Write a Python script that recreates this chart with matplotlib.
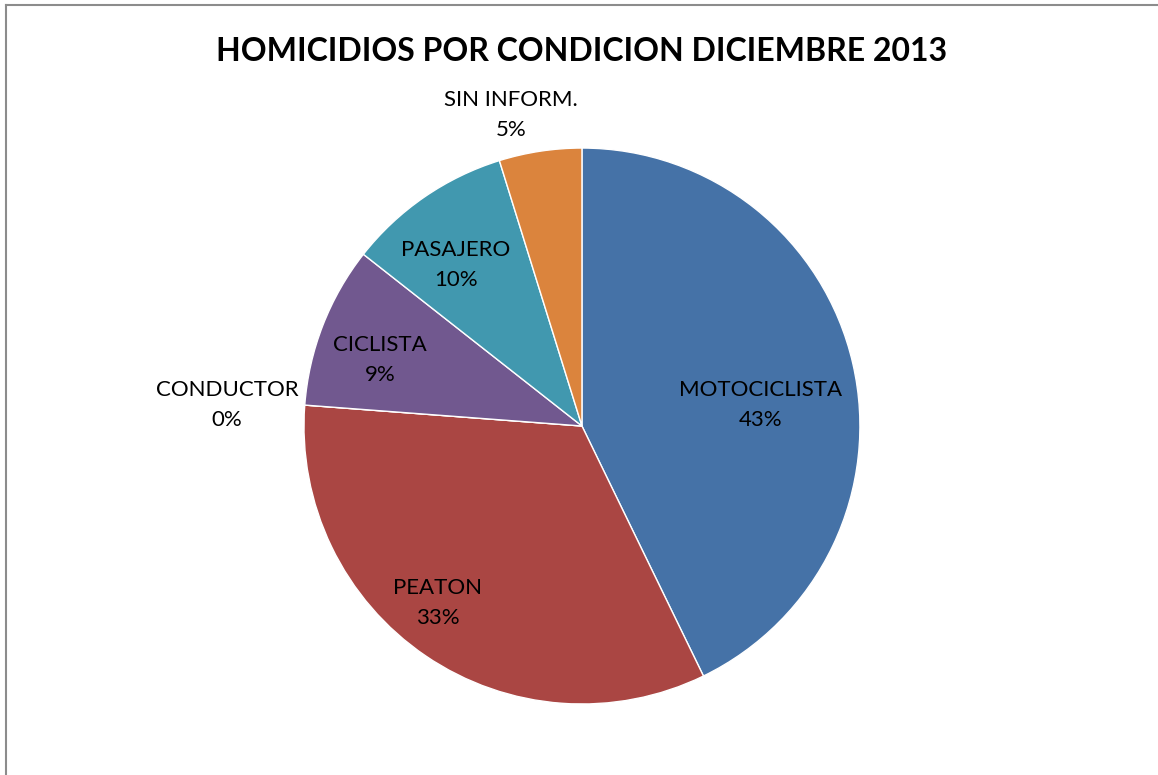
import matplotlib.pyplot as plt
from matplotlib.lines import Line2D

categorias = ['MOTOCICLISTA', 'PEATON', 'CONDUCTOR', 'CICLISTA', 'PASAJERO', 'SIN INFORM.']
valores = [42.8, 33.4, 0.0, 9.4, 9.6, 4.8]
colores = ['#4572A7', '#AA4643', '#89A54E', '#71588F', '#4198AF', '#DB843D']

plt.rcParams['font.family'] = ['Lato', 'DejaVu Sans']

fig = plt.figure(figsize=(11.58, 7.75), dpi=100)
ax = fig.add_axes([0.2625, 0.0916, 0.4801, 0.7174])
ax.pie(valores, colors=colores, startangle=90, counterclock=False, radius=1,
       wedgeprops=dict(edgecolor='white', linewidth=1))
ax.set_xlim(-1, 1)
ax.set_ylim(-1, 1)
ax.set_aspect('equal')
ax.axis('off')

# label positions (pixel offsets from centre / radius)
pos = [(179, -21), (-144, 177), (-355, -21), (-202, -66), (-126, -161), (-71, -311)]
total = sum(valores)
for cat, v, (dx, dy) in zip(categorias, valores, pos):
    ax.text(dx / 278, -dy / 278, f"{cat}\n{v / total * 100:.0f}%", ha='center', va='center',
            fontsize=16, linespacing=1.6, color='black', clip_on=False)

fig.text(0.5026, 0.933, 'HOMICIDIOS POR CONDICION DICIEMBRE 2013', ha='center', va='center',
         fontsize=23, fontweight='bold')

# chart area border (left and top visible)
fig.add_artist(Line2D([6 / 1158, 6 / 1158], [0, 1 - 5 / 775], color='#8c8c8c', linewidth=1.5))
fig.add_artist(Line2D([6 / 1158, 1], [1 - 5 / 775, 1 - 5 / 775], color='#8c8c8c', linewidth=1.5))

fig.savefig('out.png', dpi=100)
